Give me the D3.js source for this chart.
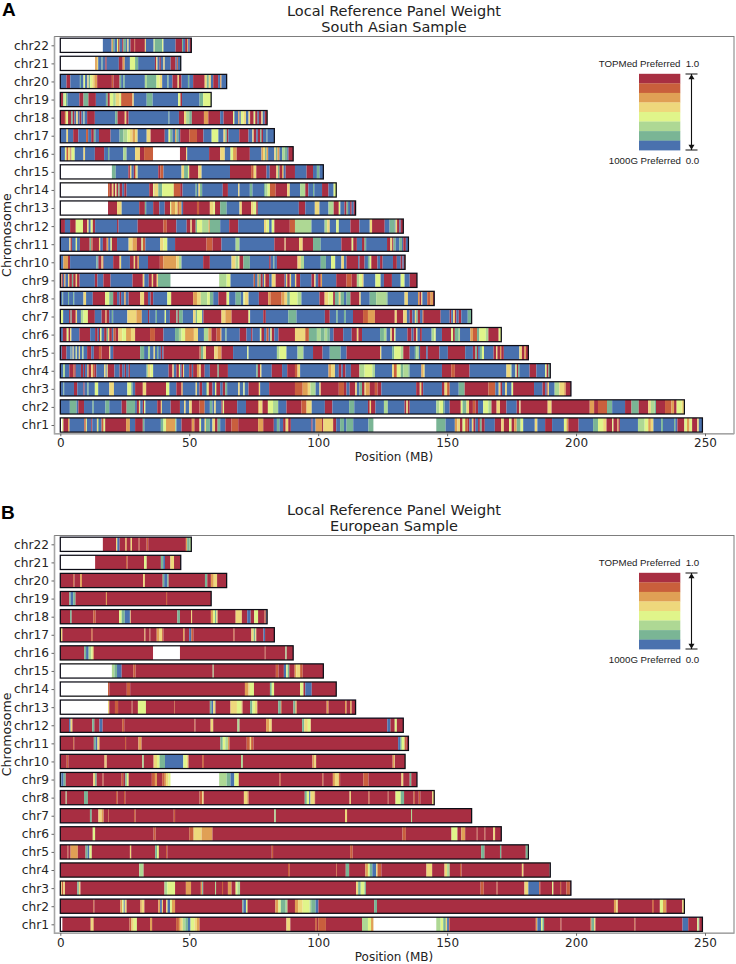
<!DOCTYPE html>
<html><head><meta charset="utf-8">
<script src="https://cdn.jsdelivr.net/npm/d3@7/dist/d3.min.js"></script>
<style>html,body{margin:0;padding:0;background:#fff}svg{display:block}</style>
</head><body><svg id="c" width="736" height="964"></svg>
<script>
const chromosomes=["chr22","chr21","chr20","chr19","chr18","chr17","chr16","chr15","chr14","chr13","chr12","chr11","chr10","chr9","chr8","chr7","chr6","chr5","chr4","chr3","chr2","chr1"];
const chromLengths=[50.8,46.7,64.5,58.5,80.2,83,90.3,102,107,114.5,133,135,133.7,138.3,145,159.5,171,181.5,190,198,242,249];
const xTicks=[0,50,100,150,200,250];
const levelColors=["#4a71ae","#7ab595","#aed894","#e0f58a","#eed87c","#e0a055","#c95f3c","#a82f42"];
const legendTop=["TOPMed Preferred","1.0"];
const legendBottom=["1000G Preferred","0.0"];
const W=null;
// Each row: [start MB, weight level 0..7, null = no data]
const a22=[[0,W],[16.5,0],[19.9,5],[20.4,1],[21,0],[22,3],[22.4,6],[23,0],[24,7],[24.5,1],[25.5,0],[26,4],[26.5,0],[27.2,7],[28.7,6],[29,7],[32.8,4],[33.2,0],[36.2,3],[36.6,1],[39.5,3],[40,0],[44.7,7],[47.2,1],[47.6,0],[48.4,7],[49.2,5],[49.6,0],[50.2,7]];
const a21=[[0,W],[13.5,5],[14.2,4],[14.7,0],[16,1],[16.4,0],[17.5,7],[18,0],[22.7,7],[24.2,5],[25,0],[27,3],[29,1],[30.2,0],[36.7,7],[37.2,4],[37.7,0],[38.5,7],[39,0],[40,4],[40.5,0],[42.8,7],[44.7,0],[45.2,6],[45.6,0]];
const a20=[[0,0],[2.4,7],[3.9,0],[7.6,1],[8,0],[9,3],[9.6,0],[10.5,4],[11,1],[11.6,3],[12.4,4],[13.2,5],[14.3,7],[20,6],[20.6,7],[23,1],[23.6,0],[24.4,1],[25,0],[32.8,2],[33.6,1],[37.3,3],[38.5,4],[39.5,0],[41.5,1],[42,0],[43.5,7],[45.5,4],[46,7],[47,0],[49.5,1],[50,0],[51.5,7],[56,4],[56.8,1],[57.6,4],[58.4,0],[59.3,7],[61.2,0],[62,5],[62.5,0]];
const a19=[[0,7],[1.1,2],[1.7,3],[2.2,1],[2.8,0],[7.4,7],[9,1],[10.9,7],[13.8,0],[17.7,1],[18.4,7],[19.2,3],[20.5,2],[21.5,4],[23,3],[23.6,6],[28,4],[28.5,0],[33.5,1],[35.8,0],[45.7,3],[46.6,7],[47.2,0],[54,1],[55.4,3]];
const a18=[[0,7],[1.8,5],[2.4,3],[3,7],[4.2,1],[4.8,7],[5.5,0],[6.2,4],[6.8,0],[7.5,7],[8.2,0],[9,2],[9.4,0],[10.4,7],[13.4,0],[21.3,1],[22.2,7],[25,4],[25.6,7],[26.5,0],[42,1],[42.3,0],[46,7],[48,4],[48.8,2],[50,1],[51,7],[55.7,5],[57.4,7],[62,0],[63.3,7],[67,3],[67.5,0],[69,5],[69.5,0],[70,3],[71,4],[72,0],[73,4],[73.6,7],[75,3],[75.6,7],[76.5,0],[77,7],[78,4],[78.5,0],[79.3,7]];
const a17=[[0,0],[2.4,4],[3,0],[5,7],[7,0],[10,6],[10.8,0],[12,7],[13,1],[13.6,0],[15,7],[19.5,0],[23,1],[24.5,2],[26,3],[27,4],[28,5],[29,4],[30,0],[33.5,4],[35,7],[40.5,0],[42,3],[42.6,1],[43.5,0],[44.5,5],[45,1],[45.8,0],[46.5,7],[50,6],[53,7],[55.5,0],[58.7,3],[61.3,0],[63.3,4],[64,1],[64.6,7],[65.2,0],[69.4,7],[73,0],[74.5,4],[75,7],[76,0],[76.6,7],[77.5,1],[78,7],[78.6,0],[80,1],[80.3,0]];
const a16=[[0,0],[1.8,3],[2.4,6],[3,4],[4,7],[4.3,3],[5.6,0],[9,4],[9.6,0],[13.4,7],[17,0],[18.5,1],[19,0],[24.4,2],[25.7,0],[29,4],[30.9,7],[32.5,6],[36,W],[46.4,7],[48.8,4],[49.2,0],[57.7,7],[62,4],[63.8,0],[66,3],[67,5],[68.4,7],[73.5,0],[78,5],[78.6,4],[79.4,1],[80,5],[80.6,0],[83,4],[83.6,1],[84.2,5],[85,0],[86,2],[87,1],[88,0],[88.5,7]];
const a15=[[0,W],[20,1],[21.5,0],[26.4,7],[27,4],[27.6,0],[28.5,7],[29,5],[29.6,3],[30,0],[38,7],[38.8,6],[40,0],[47,4],[48,1],[49.5,3],[50,7],[53.5,4],[54.8,0],[65.8,7],[74,6],[75,4],[76,7],[80,0],[81.2,7],[83.8,4],[84.4,1],[85,7],[86,5],[86.6,0],[87.4,7],[91,0],[95.5,7],[98,0],[99.5,1],[100.5,0]];
const a14=[[0,W],[18.5,6],[19.2,7],[20,4],[20.6,7],[21.3,3],[21.8,7],[22.5,1],[23,7],[24,0],[24.8,7],[25.7,0],[34.5,7],[36,3],[36.4,7],[36.5,4],[38,1],[39.5,3],[44,6],[46.5,7],[47.4,0],[52.5,1],[53,0],[53.6,4],[54.2,1],[55,0],[63,7],[65,0],[69,4],[69.5,0],[73.5,1],[74.5,0],[79,1],[79.6,2],[80.4,3],[81.3,6],[83.5,7],[88,4],[89,0],[93,2],[95,7],[96.2,0],[98,1],[98.5,0],[101.5,7],[104,0],[106,3]];
const a13=[[0,W],[18.5,7],[22,4],[23.8,0],[30.6,7],[32.8,1],[33.3,0],[36,7],[38.4,0],[40.5,7],[42.6,3],[43,5],[44.5,4],[45.5,6],[46,5],[47,0],[47.6,7],[53,6],[53.8,7],[58,4],[59.5,3],[60,7],[62,1],[64.5,0],[69.5,4],[70.4,7],[74,4],[75,3],[76,7],[76.6,0],[92.5,7],[95,0],[98.7,4],[100.5,0],[104,2],[106,7],[108,3],[108.6,0],[110.2,7],[111,1],[111.6,0],[112.4,7],[113,0],[113.8,7]];
const a12=[[0,7],[1.8,0],[3.8,7],[6,3],[8.8,7],[10.4,4],[11,0],[11.8,3],[12.6,7],[13.5,0],[22,7],[22.6,0],[30,7],[40,6],[41.3,7],[45,0],[49,7],[50.5,4],[51,7],[52.5,1],[53,3],[55,2],[57.5,5],[58,1],[62,0],[65.5,7],[69,0],[79,4],[80,3],[81,0],[82,3],[83,7],[89,6],[91,2],[97.4,0],[102.5,2],[103.5,4],[104.5,0],[107,3],[108,0],[112.5,7],[116,0],[120,4],[120.9,7],[125.8,0],[127.7,1],[129.7,0],[130,4],[130.6,7],[131.5,0],[132,7]];
const a11=[[0,0],[3.5,4],[4,7],[4.5,0],[6,3],[6.5,0],[7.6,7],[11.4,1],[12,6],[12.5,7],[15,4],[15.5,0],[16.5,7],[18,5],[18.6,0],[19.5,3],[20,7],[22,0],[26.5,4],[28,5],[29.7,7],[31.5,3],[32,6],[33,0],[38.7,4],[40,3],[41.5,0],[44.5,7],[56.7,6],[59,7],[62.5,0],[68,2],[69.5,0],[83,7],[87,4],[87.4,7],[92.6,4],[94,7],[98,1],[101,0],[109,7],[113,3],[113.6,7],[115,0],[117,7],[118,1],[118.6,0],[126.7,7],[128,4],[128.7,7],[129.2,1],[130,0],[131.5,1],[132.5,0],[133,7],[134,0]];
const a10=[[0,0],[1.2,5],[3,7],[3.8,0],[14,1],[14.5,0],[14.8,7],[16,4],[16.5,7],[16.8,0],[20.5,7],[23,4],[23.6,0],[27,7],[28.5,4],[29,7],[30,5],[30.5,0],[34,7],[38.6,6],[40,5],[45,4],[46,2],[47,0],[55.4,7],[58,0],[66.4,4],[68,2],[69,3],[69.5,7],[71,1],[73.5,0],[81,7],[81.6,0],[82.6,1],[83,0],[84,7],[92,4],[93.3,2],[94.5,0],[101,1],[103,0],[105,3],[106.6,0],[109,4],[110,0],[111,7],[115.5,0],[116,7],[118,0],[119.3,1],[120,3],[120.6,7],[123,0],[124,7],[125,0],[129,7],[130.5,0],[132,7],[132.7,0],[133.2,7]];
const a9=[[0,4],[.5,7],[1,0],[1.5,5],[2,0],[3,4],[3.5,7],[4.5,1],[5,7],[6,4],[6.5,7],[7.5,0],[13.4,7],[14.4,0],[16.7,7],[19.5,0],[28,7],[32,4],[32.6,0],[34.3,7],[35.5,4],[36,7],[37.4,4],[37.9,1],[42.8,W],[61.6,2],[64.5,3],[66,0],[75,6],[75.5,0],[76.5,5],[77,1],[77.7,7],[78.5,0],[79,4],[79.5,7],[81,0],[82,4],[83.5,7],[87,0],[87.5,4],[88,7],[89,4],[89.5,0],[91,4],[91.5,7],[93,0],[97.4,7],[98.5,4],[99,0],[100,7],[101,5],[101.5,0],[107,7],[111,6],[113,7],[115,2],[116,3],[117,4],[117.6,0],[122.2,3],[124.2,0],[125.5,7],[128.6,0],[132,3],[133.5,0],[135.5,7]];
const a8=[[0,0],[.8,1],[1.1,0],[3,1],[3.4,0],[5,1],[5.4,0],[9,4],[10,0],[12.6,7],[17.4,3],[19,1],[20.5,7],[22,0],[23,7],[23.6,0],[24.8,5],[25.4,0],[26.5,7],[31,4],[32.5,7],[34,0],[35,7],[36,0],[41.5,3],[43,7],[51.5,5],[53,4],[54.5,2],[57,3],[58,1],[59.3,0],[61.3,7],[64.5,3],[65.5,0],[68,1],[70,0],[71,3],[71.5,4],[73,0],[77,7],[80.6,5],[81.5,6],[85.8,5],[87,4],[88,1],[89,3],[92,2],[93.5,0],[100.5,7],[102.5,4],[104,3],[105.8,7],[106.5,1],[108,4],[108.7,1],[110,0],[111,1],[112.5,7],[116,4],[116.5,0],[120,1],[122.5,2],[126.5,1],[127,0],[133.5,4],[134.8,0],[138.7,5],[139.3,7],[140,4],[140.4,0],[142.3,6],[143.6,5],[144.5,7]];
const a7=[[0,3],[1.1,0],[3.4,7],[4,1],[4.4,7],[6,4],[6.5,0],[8,2],[9,3],[10.7,7],[13.4,0],[16,7],[17.5,5],[18,7],[19,0],[20,1],[20.5,0],[26,4],[29.5,5],[31.6,0],[34,7],[34.5,0],[37,1],[37.5,0],[40.5,3],[41,0],[42.5,7],[45,1],[45.5,7],[46,1],[47.5,0],[51.5,4],[52.5,1],[53,3],[55,0],[55.5,7],[62.5,4],[64,5],[66.4,7],[73,3],[73.6,0],[78.7,7],[79.7,0],[88.4,1],[91.6,0],[102.6,7],[104.5,0],[107,1],[107.6,0],[110,1],[110.7,0],[113.5,7],[117.4,6],[119.3,5],[122,7],[129.7,4],[130.5,7],[133,4],[134.4,0],[135.5,7],[136.5,0],[137.5,4],[138,1],[138.6,7],[139.5,0],[140.5,6],[141,7],[147.5,0],[151,7],[151.6,0],[152.3,4],[153,7],[153.6,0],[154.5,7],[155.5,0],[158,1]];
const a6=[[0,0],[1,7],[2.5,3],[3.2,7],[3.8,4],[4.3,0],[7.4,7],[11.6,0],[13.5,7],[14.5,0],[15,7],[15.4,3],[16,0],[17,7],[18,1],[18.5,4],[19,7],[20,0],[20.6,6],[21.5,7],[22.5,4],[24,3],[25.5,5],[27.4,4],[29,7],[34.8,6],[36.7,7],[40,0],[44.5,1],[46,2],[47,3],[48.4,5],[51.8,4],[53.4,0],[55.7,2],[57.4,5],[58.6,7],[60.6,6],[62,5],[62.5,0],[64,1],[64.5,0],[69.6,7],[72.2,0],[74,7],[74.5,0],[77.4,3],[78,7],[79,0],[80,6],[80.8,0],[81.5,3],[82,7],[83,0],[84.6,7],[91,4],[95,6],[96.4,1],[99.5,2],[101,1],[102.5,2],[103.5,1],[104.5,0],[106,7],[109.7,0],[113,7],[115,4],[115.6,7],[117,0],[124,1],[125.5,2],[126.5,0],[128,4],[128.6,7],[129.5,3],[130,0],[134.6,7],[136.2,0],[137,7],[138,4],[138.5,0],[139.5,7],[140.2,0],[144,2],[145,3],[145.6,0],[148,7],[151.6,3],[152.3,7],[153,1],[154.5,2],[155,0],[159,5],[160,6],[161.6,1],[162.5,3],[165,2],[166,7],[170,3]];
const a5=[[0,0],[.6,7],[2.4,0],[4,1],[4.3,0],[4.8,4],[5.2,0],[6,3],[6.4,0],[7.2,4],[7.6,0],[8.5,2],[9,0],[10.4,7],[12,0],[13,7],[15,6],[16,7],[19,4],[19.4,0],[20.5,7],[31,1],[32.5,0],[34,2],[34.8,0],[36.2,4],[36.7,0],[37.5,1],[38,0],[39,7],[39.5,0],[40,7],[54,6],[54.5,1],[55.5,4],[56.5,7],[59.7,4],[61,5],[62.5,7],[67,0],[72.5,3],[73,0],[84,2],[85,3],[87.7,0],[92,2],[94.3,0],[98,7],[101.7,0],[104.5,1],[108.7,0],[111,7],[124,4],[124.5,0],[128.7,1],[129.5,3],[132,2],[133,7],[135.5,0],[137.5,1],[138,2],[139,0],[139.5,7],[141.9,0],[142.5,7],[147,0],[150.3,7],[157,0],[160,7],[161,1],[161.6,7],[162,0],[162.7,1],[163.5,3],[164.3,0],[168,7],[169,4],[169.5,7],[170.5,5],[171,7],[172,0],[178,4],[179,7],[180,5],[180.6,7]];
const a4=[[0,0],[1.1,2],[1.8,0],[3.5,7],[5,6],[5.5,7],[6,0],[8,7],[8.8,0],[9.2,7],[9.6,0],[10.5,5],[11,7],[12,4],[12.6,6],[13.2,7],[14,0],[17,4],[17.6,0],[18,3],[18.4,7],[21,0],[23,7],[24,0],[25,7],[25.5,0],[26.5,7],[27,0],[33.5,2],[34,4],[35,3],[36,0],[42,7],[43.5,4],[44,0],[45,7],[46,3],[46.5,0],[47,7],[47.6,4],[48,0],[50,7],[51,0],[51.5,7],[53,5],[54,4],[54.5,7],[56,0],[58,7],[61,1],[61.5,7],[65,0],[76,1],[76.6,7],[77.5,4],[78,0],[82,7],[86,0],[88,7],[91,6],[92,4],[93,0],[104,5],[105,4],[106.5,0],[108,7],[109,0],[109.6,7],[110.6,0],[112.7,7],[116,2],[118,3],[121,2],[122,0],[128.7,4],[129.4,6],[130.5,3],[132,1],[133,2],[135,1],[135.5,0],[140,5],[140.6,4],[141.3,0],[148,7],[151.6,6],[153,7],[158.7,0],[173,4],[174.6,2],[175,0],[176.5,3],[177,7],[177.5,1],[178,0],[182,7],[184.6,0],[188,3],[188.6,7],[189.3,1]];
const a3=[[0,0],[1.2,1],[1.5,0],[5.3,7],[6.6,0],[9,7],[9.4,0],[10.5,1],[11,0],[13.4,3],[14.7,0],[19,4],[20.8,0],[26,3],[27.5,1],[28,0],[29,7],[32,4],[33.3,7],[41,3],[42.3,0],[45,7],[47,5],[47.5,0],[52.5,4],[53,0],[54,7],[55,0],[56.5,1],[57,4],[57.6,7],[59,0],[60,3],[60.5,7],[62,0],[63,7],[64,1],[64.7,0],[69,4],[69.6,0],[71,3],[71.5,0],[73,7],[77,4],[77.5,0],[81,7],[91,6],[94,5],[96,4],[97,2],[99,0],[100.5,4],[101,7],[108,6],[110,7],[111,0],[112.2,7],[114.4,4],[115,0],[116,1],[117,7],[118,4],[118.5,5],[120,7],[122,6],[123,7],[124.5,0],[138,7],[139.4,4],[140,7],[140.7,0],[148,7],[149,4],[150,6],[151,0],[154.5,1],[156.8,7],[166,6],[168.7,0],[170,4],[170.7,7],[171.3,0],[172.5,4],[173.2,0],[175,3],[175.6,7],[183.7,0],[187,7],[188,0],[188.6,7],[189,4],[189.5,0],[191.7,2],[193.5,4],[195.4,5],[196,7]];
const a2=[[0,0],[3.7,1],[6.3,0],[7,7],[9.2,0],[12.5,1],[13,0],[17.5,1],[19,0],[23.8,7],[25.7,1],[29,0],[29.7,7],[30.5,4],[31,0],[32,7],[32.5,3],[33,0],[37.6,7],[39,4],[39.4,0],[42.8,7],[46.4,0],[48,4],[48.6,0],[50,4],[51,7],[54,6],[56,0],[58,1],[59,0],[59.7,4],[60.3,0],[62.5,7],[63,3],[63.5,7],[68.6,0],[72,7],[76.7,5],[77.2,4],[78.4,7],[80.5,3],[82.5,2],[84.5,0],[87.7,7],[93.5,6],[95.5,4],[97.5,0],[102.6,7],[105.5,0],[112,1],[114,0],[119.3,7],[120,4],[120.5,7],[122.2,0],[125.5,2],[127,0],[133.5,7],[134.2,4],[134.8,7],[135.5,0],[145.8,2],[147,3],[148.4,1],[149,0],[151,7],[155.3,3],[156,1],[157.5,4],[158.5,7],[160,6],[161,7],[162,0],[164,3],[166,2],[167.2,7],[169.2,4],[170.5,7],[173,0],[177,7],[178,4],[178.5,7],[189,4],[190.5,7],[205.3,5],[207,7],[208.5,6],[212,1],[214,0],[219,7],[221.5,1],[224.3,7],[228,4],[229,2],[230.5,1],[231,7],[234.5,6],[237,5],[238,7],[239,3],[241,4]];
const a1=[[0,W],[.7,3],[1.2,7],[3,5],[3.6,0],[9.3,6],[9.9,3],[10.3,0],[12,7],[12.4,0],[14.2,4],[14.6,1],[15,0],[16,6],[16.8,3],[17.4,7],[25.5,5],[27,0],[29,7],[32,1],[32.6,0],[39,1],[40,3],[41,5],[44.5,2],[45,0],[47,7],[51,5],[52,7],[54,3],[54.6,0],[56,4],[56.5,1],[58,0],[59,4],[60,7],[61,1],[62,0],[64,7],[66.4,6],[69,7],[76.7,5],[78.7,7],[82.8,0],[84,1],[85,0],[86.4,7],[87.4,4],[88.4,7],[89.4,0],[97.4,7],[97.8,0],[99,5],[101.5,7],[102,4],[105.8,7],[107,0],[108.5,1],[110,0],[111,1],[113.6,0],[119.5,1],[121.5,W],[145.8,1],[149.4,0],[153,5],[154,4],[155,7],[156,3],[157,6],[158,7],[158.6,0],[159.6,4],[160.2,7],[161,0],[162,7],[162.7,1],[163.4,7],[164.6,0],[168.5,7],[171,4],[172,7],[174,3],[175,7],[176,5],[177,1],[178.5,3],[179.5,0],[184,4],[185,0],[188,7],[190.7,0],[195.3,3],[196.3,5],[197,7],[201,0],[206.6,1],[208.5,3],[210.5,4],[211.8,7],[214,3],[214.5,7],[216,5],[216.5,7],[217,0],[224,2],[226.6,3],[228,5],[229,4],[230,0],[233,1],[233.7,0],[238,1],[238.5,0],[239.3,7],[242,3],[243,5],[244,3],[245,7],[247,4],[247.6,0]];
const b22=[[0,W],[16.5,7],[21.6,4],[22.1,0],[23,7],[25.2,5],[25.8,7],[27.3,4],[27.8,7],[30.4,6],[30.8,7],[33.5,6],[34.1,7],[48.7,5],[49.2,1],[50.2,2]];
const b21=[[0,W],[13.5,7],[25.5,6],[26.1,7],[32.5,3],[33.5,7],[39,1],[39.9,0],[40.6,7],[42.7,4],[44.1,7]];
const b20=[[0,7],[5,6],[5.5,7],[7.7,5],[8.4,7],[32.1,4],[32.8,7],[39.7,1],[40.3,0],[41.5,1],[42,7],[56.1,1],[57,7],[58.4,5],[59.5,4],[60.8,7]];
const b19=[[0,1],[.3,7],[3.5,1],[4,0],[5,1],[5.9,7],[17.7,5],[18.1,7],[41,6],[41.4,7]];
const b18=[[0,7],[3.8,1],[4.4,7],[12.8,6],[13.7,7],[22.8,3],[23.8,1],[25,0],[27,4],[27.3,7],[45.4,1],[46.4,7],[50.7,4],[51.1,7],[58.4,5],[59.2,3],[60,1],[60.5,4],[61,7],[68,4],[70.4,7],[72.5,0],[73.8,7],[75.2,3],[76.7,7],[79.2,6],[79.7,0],[80.1,7]];
const b17=[[0,4],[.8,7],[12,6],[12.6,7],[32.6,5],[33,7],[34.6,6],[34.9,7],[37.4,5],[38.5,4],[39.5,6],[40,7],[47.6,5],[48.2,7],[50,0],[50.8,6],[51.6,7],[67.1,6],[67.6,7],[74.1,4],[75,1],[75.6,4],[76,7],[78.8,0],[79.4,7]];
const b16=[[0,7],[9.3,1],[10,0],[11,2],[12,3],[12.6,5],[13,7],[36,W],[46.4,7],[79.3,6],[79.6,7],[87.3,2],[87.8,7]];
const b15=[[0,W],[20,2],[21,1],[22,0],[23.8,7],[28.3,6],[29.2,7],[59.1,2],[59.5,7],[83.6,6],[84.6,7],[86.7,0],[87.6,3],[88.2,1],[88.8,7],[90.9,5],[91.5,4],[93,6],[94,7]];
const b14=[[0,W],[18.5,6],[19,7],[25.8,6],[27.1,7],[71.6,5],[73,4],[73.5,3],[75.1,7],[81.3,1],[82,3],[82.9,7],[93,3],[94.3,7],[95,0],[97.5,7]];
const b13=[[0,W],[18.5,4],[19,7],[21.2,6],[22.4,7],[27.7,6],[28,7],[30.1,3],[33.2,7],[44.1,6],[44.4,7],[58,1],[58.6,0],[59.3,4],[60,1],[60.2,7],[66,4],[68.5,3],[70.3,5],[70.7,7],[73.6,1],[74.5,3],[75.5,4],[76.4,7],[84.5,1],[85.5,6],[85.9,7],[90.4,1],[91.2,5],[91.7,7],[103.3,5],[104,7],[110.4,5],[111,7],[112.4,5],[113,7]];
const b12=[[0,7],[3.4,0],[4,4],[4.7,7],[12.4,1],[13.2,7],[15.2,0],[16.4,7],[24,6],[24.8,7],[52,6],[52.4,7],[58.3,4],[59.3,7],[68.7,2],[69.5,7],[79.8,5],[81,4],[82,7],[93.8,1],[94.6,4],[96,3],[97,5],[97.2,7],[126.8,0],[128,7],[129.7,3],[130.5,7]];
const b11=[[0,7],[5,6],[5.4,7],[13,1],[13.7,0],[14.4,4],[15.2,7],[25.1,6],[25.5,7],[30.3,5],[31.5,7],[62.1,1],[63,3],[64,2],[65,5],[65.6,7],[72.3,6],[73.5,4],[74,6],[74.9,7],[131,0],[132,2],[132.5,3],[133.5,6],[134.2,7]];
const b10=[[0,7],[2.5,6],[3.1,7],[17.1,5],[17.6,4],[18,7],[31.8,2],[32.4,7],[36.2,4],[37.5,3],[38.5,1],[40.6,0],[47.7,3],[49,4],[49.7,7],[55,6],[55.7,7],[70.1,2],[70.8,7],[97.8,5],[98.6,4],[99.2,7],[128.9,5],[129.4,4],[129.7,7]];
const b9=[[0,1],[.4,0],[1.3,1],[2.1,7],[12.8,4],[13.5,1],[14.1,7],[16.4,6],[16.8,7],[23.8,6],[24.4,7],[25.2,1],[25.8,3],[26.5,7],[35.5,6],[36.7,5],[37.5,7],[39.5,6],[40.5,5],[41,4],[42,3],[42.8,W],[61.6,2],[64.5,1],[66,0],[67.5,3],[69.2,7],[85,6],[85.5,7],[101.6,6],[102,7],[105.7,5],[106.5,4],[108,6],[108.5,7],[117.5,6],[119.5,7],[132.3,4],[133,7],[135.5,1],[136.1,7]];
const b8=[[0,7],[2.1,2],[2.5,7],[9.2,1],[10.7,7],[21.6,6],[22.2,7],[24.7,6],[25.2,7],[54,6],[55,4],[55.6,7],[71.2,4],[72.5,5],[73,7],[94.8,1],[95.6,3],[96.5,0],[97,4],[98.5,5],[98.8,7],[112.2,4],[112.7,7],[119.5,6],[120,7],[127,6],[127.3,7],[130,3],[132,1],[133.3,7],[137,6],[137.5,7],[139,6],[139.6,7],[144.2,4]];
const b7=[[0,7],[11.5,1],[12.2,7],[14.8,4],[16,5],[16.8,7],[18.5,6],[18.8,7],[28.6,6],[29.2,7],[44,6],[44.5,7],[83,2],[83.6,7],[110.4,4],[111.2,7],[136,2],[136.4,7]];
const b6=[[0,7],[12.6,3],[13.5,7],[36.2,6],[37,7],[50,6],[51.7,4],[54.8,5],[59,7],[132.7,6],[134,7],[151.7,3],[154,7],[155.5,5],[157,7],[161.5,6],[161.8,7],[164.5,6],[164.8,7],[167.9,4],[168.6,7]];
const b5=[[0,7],[2.8,6],[3.1,7],[4,5],[6.8,7],[9.8,1],[10.6,0],[11.3,3],[12.2,7],[27,4],[27.5,7],[36.8,1],[37.5,3],[38.2,7],[41,6],[41.5,7],[82,6],[82.5,7],[112.4,6],[113.4,7],[163.2,1],[164.5,7],[170.5,1],[171,7],[180.5,1],[181.3,3]];
const b4=[[0,7],[30.6,2],[32.3,7],[88.3,6],[89,7],[107,6],[107.3,7],[110.7,1],[112,7],[118.3,5],[119.3,3],[120,1],[121,0],[122.5,4],[123,6],[124.5,7],[142,4],[144.2,7],[149,4],[150,2],[151,7],[155,6],[155.6,7],[179,4],[179.6,7],[189.8,1]];
const b3=[[0,4],[.6,6],[1.2,4],[1.8,7],[6.6,1],[7.2,4],[7.8,7],[40.4,2],[41.5,3],[44.5,7],[48.7,5],[50.7,7],[54.5,5],[55,1],[55.4,7],[60,2],[60.4,7],[62.7,6],[63.1,7],[65,5],[66.4,7],[68,3],[68.7,2],[69.7,7],[114.7,4],[115.5,1],[116.5,3],[118,1],[118.5,7],[163,6],[164.2,7],[169.2,6],[169.6,7],[180,4],[181.5,0],[185.7,6],[186.1,7],[190.7,3],[191.2,7],[193.8,6],[194.2,7],[196.3,6],[197.6,7]];
const b2=[[0,7],[12.8,6],[13.2,7],[23.3,5],[24,3],[24.6,0],[25,4],[25.7,7],[31,5],[31.6,4],[32.6,7],[38,5],[38.7,0],[39.4,4],[39.8,7],[41,4],[41.6,0],[42.6,3],[43.3,5],[44.5,7],[70.6,1],[71,0],[72,3],[72.6,7],[83.4,5],[84.6,3],[85.5,1],[87.4,2],[88.1,7],[91,5],[92.2,4],[94,3],[96.7,2],[97.3,1],[99,0],[100.1,7],[121.7,1],[122.8,7],[214.7,5],[215.6,4],[216.2,7],[229.5,6],[230.2,7],[232.5,3],[233.7,5],[235,7],[241.2,4]];
const b1=[[0,W],[.8,7],[11.8,4],[12.6,5],[13,7],[26.8,6],[27.6,4],[28.5,3],[29.7,7],[34.8,5],[35.6,7],[44.9,6],[46,5],[46.7,4],[47.5,2],[48.5,1],[49.5,0],[50.5,3],[52,4],[53,5],[54,7],[87.7,4],[89.2,7],[98.8,6],[99.5,7],[100,6],[103,7],[117,2],[119.3,3],[120.5,5],[121.5,W],[145.8,2],[147.5,3],[148.5,1],[149.5,4],[150,0],[150.7,6],[151,7],[184.4,5],[185,0],[186.4,3],[187,1],[187.6,7],[194,6],[194.3,7],[205.5,6],[206,1],[207,4],[207.5,7],[222.6,6],[223,7],[241.3,0],[243.5,7],[247,3],[247.5,1],[247.8,7]];

const panelARows=[a22,a21,a20,a19,a18,a17,a16,a15,a14,a13,a12,a11,a10,a9,a8,a7,a6,a5,a4,a3,a2,a1];
const panelBRows=[b22,b21,b20,b19,b18,b17,b16,b15,b14,b13,b12,b11,b10,b9,b8,b7,b6,b5,b4,b3,b2,b1];

const svg=d3.select("#c");
const defs=svg.append("defs");
defs.append("filter").attr("id","soft").attr("x","-2%").attr("y","-10%").attr("width","104%").attr("height","120%")
  .append("feGaussianBlur").attr("stdDeviation","0.65 0.4");
const sans="'DejaVu Sans',sans-serif", arial="'Liberation Sans',Arial,sans-serif";
const x=d3.scaleLinear().domain([0,250]).range([60.3,705]);
const barH=14.2;

function panel(cfg){
  const y=d3.scalePoint().domain(chromosomes).range([cfg.y22,cfg.y1]);
  const g=svg.append("g");
  g.append("rect").attr("x",54.5).attr("y",cfg.top).attr("width",679.5).attr("height",cfg.bottom-cfg.top)
    .attr("fill","#fff").attr("stroke","#7d7d7d").attr("stroke-width",1);
  g.append("path").attr("d",`M54.5,${cfg.top}V${cfg.bottom}H734`).attr("fill","none").attr("stroke","#a6a6a6").attr("stroke-width",1.6);
  const bars=g.append("g").attr("filter","url(#soft)");
  cfg.rows.forEach((row,i)=>{
    const c=chromosomes[i], len=chromLengths[i];
    const top=y(c)-barH/2;
    bars.append("g").selectAll("rect").data(row).join("rect")
      .attr("x",d=>x(d[0]))
      .attr("width",(d,j)=>x(j+1<row.length?row[j+1][0]:len)-x(d[0]))
      .attr("y",top).attr("height",barH)
      .attr("fill",d=>d[1]===null?"#fff":levelColors[d[1]]);
    bars.append("rect").attr("x",x(0)).attr("y",top).attr("width",x(len)-x(0)).attr("height",barH)
      .attr("fill","none").attr("stroke","#0c0c14").attr("stroke-width",1.25);
  });
  const ax=g.append("g").attr("transform",`translate(0,${cfg.bottom})`).call(d3.axisBottom(x).tickValues(xTicks).tickSize(2.5).tickPadding(2.5));
  ax.select(".domain").remove();
  ax.selectAll("line").attr("stroke","#444").attr("stroke-width",0.8);
  ax.selectAll("text").attr("font-family",sans).attr("font-size",12).attr("fill","#262626");
  const ay=g.append("g").attr("transform","translate(54,0)").call(d3.axisLeft(y).tickSize(2.5).tickPadding(2.5));
  ay.select(".domain").remove();
  ay.selectAll("line").attr("stroke","#444").attr("stroke-width",0.8);
  ay.selectAll("text").attr("font-family",sans).attr("font-size",12.2).attr("fill","#262626");
  const T=(s,px,py,fs,anchor,fam)=>g.append("text").attr("x",px).attr("y",py).attr("font-size",fs).attr("font-family",fam||sans)
     .attr("text-anchor",anchor||"middle").attr("fill","#222").text(s);
  T("Local Reference Panel Weight",394,cfg.titleY,14.5);
  T(cfg.sub,394,cfg.titleY+16.2,14.5);
  T("Position (MB)",394,cfg.bottom+27.5,12);
  g.append("text").attr("transform",`translate(10.5,${(cfg.top+cfg.bottom)/2}) rotate(-90)`).attr("text-anchor","middle")
    .attr("font-family",sans).attr("font-size",12.6).attr("fill","#222").text("Chromosome");
  T(cfg.letter,cfg.letterX,cfg.letterY,19,"start",arial).attr("font-weight","bold").attr("fill","#000");
  const ly=cfg.top+37.3, bandH=9.55;
  const band=d3.scaleBand().domain(d3.range(8)).range([ly,ly+8*bandH]);
  g.append("g").selectAll("rect").data(levelColors.slice().reverse()).join("rect")
    .attr("x",639).attr("width",41.3).attr("y",(d,i)=>band(i)).attr("height",bandH+0.2).attr("fill",d=>d);
  const ly2=ly+76.2;
  g.append("path").attr("d",`M685.5,${ly+.2}H697.5M685.5,${ly2}H697.5M691.5,${ly}V${ly2}`).attr("stroke","#111").attr("stroke-width",1.1).attr("fill","none");
  g.append("path").attr("d",`M691.5,${ly+.5}l-3,5h6zM691.5,${ly2-.3}l-3,-5h6z`).attr("fill","#111");
  T(legendTop[0],680.5,ly-7,9.7,"end",arial);
  T(legendTop[1],685.7,ly-7,9.7,"start",arial);
  T(legendBottom[0],681,ly+90.5,9.7,"end",arial);
  T(legendBottom[1],685.7,ly+90.5,9.7,"start",arial);
}
panel({rows:panelARows,sub:"South Asian Sample",letter:"A",top:36.5,bottom:433.7,y22:45.3,y1:425,titleY:16,letterX:2,letterY:15.5});
panel({rows:panelBRows,sub:"European Sample",letter:"B",top:535.5,bottom:933.3,y22:544.3,y1:924.3,titleY:515,letterX:1,letterY:519});
</script></body></html>
